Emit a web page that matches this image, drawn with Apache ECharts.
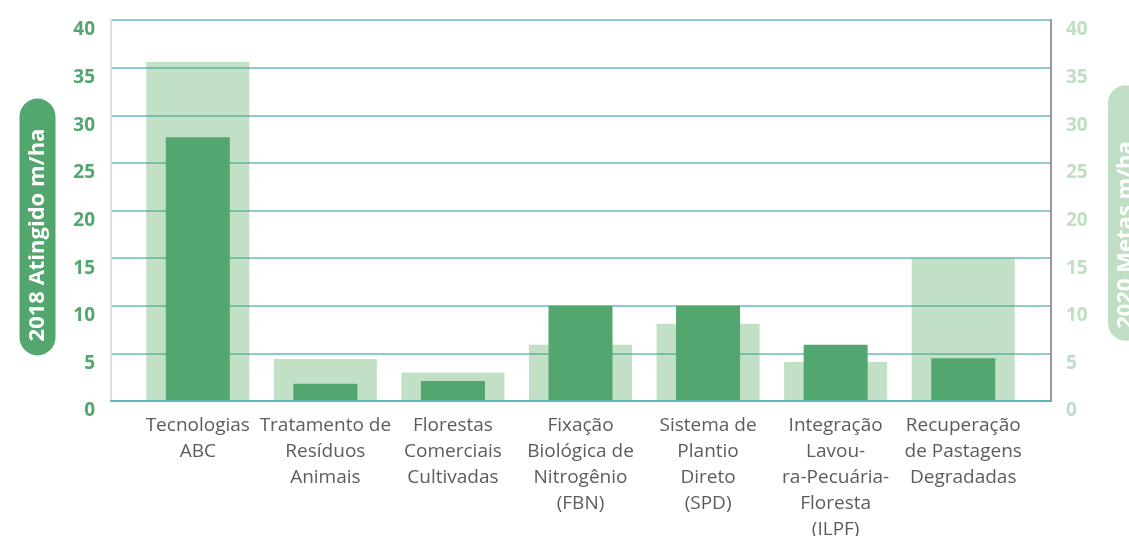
<!DOCTYPE html>
<html>
<head>
<meta charset="utf-8">
<script src="https://cdn.jsdelivr.net/npm/echarts@6/dist/echarts.min.js"></script>
<style>
  html, body { margin: 0; padding: 0; background: #fff; }
  #chart { width: 1129px; height: 536px; }
</style>
</head>
<body>
<div id="chart"></div>
<script>
// categorias e valores
var categorias = [
  'Tecnologias\nABC',
  'Tratamento de\nResíduos\nAnimais',
  'Florestas\nComerciais\nCultivadas',
  'Fixação\nBiológica de\nNitrogênio\n(FBN)',
  'Sistema de\nPlantio\nDireto\n(SPD)',
  'Integração\nLavou-\nra-Pecuária-\nFloresta\n(ILPF)',
  'Recuperação\nde Pastagens\nDegradadas'
];
var metas2020 = [35.6, 4.4, 3.0, 5.9, 8.1, 4.1, 15];
var atingido2018 = [27.7, 1.8, 2.1, 10, 10, 5.9, 4.5];
var ticksY = { min: 0, max: 40, interval: 5 };

var verdeEscuro = '#52a66e';
var verdeClaro = '#c0dec3';
// verde claro translúcido: deixa as linhas de grade aparecerem por cima
var verdeClaroBarra = 'rgba(76,165,88,0.35)';

var myChart = echarts.init(document.getElementById('chart'));

// grid 0 = moldura com eixos e linhas; grid 1 = barras (um pouco mais estreito)
var option = {
  animation: false,
  grid: [
    { left: 111, right: 78, top: 20, bottom: 135, outerBoundsMode: 'none', containLabel: false },
    { left: 134, right: 102, top: 20, bottom: 135, outerBoundsMode: 'none', containLabel: false }
  ],
  graphic: [{
    type: 'text',
    x: 37.5, y: 227,
    rotation: Math.PI / 2,
    style: {
      text: '2018 Atingido m/ha',
      fill: '#fff',
      font: 'bold 22px "Open Sans"',
      align: 'center',
      verticalAlign: 'middle',
      backgroundColor: verdeEscuro,
      borderRadius: 18,
      padding: [7, 30, 7, 14]
    }
  }, {
    type: 'text',
    x: 1126, y: 213,
    rotation: Math.PI / 2,
    style: {
      text: '2020 Metas m/ha',
      fill: '#fff',
      font: 'bold 22px "Open Sans"',
      align: 'center',
      verticalAlign: 'middle',
      backgroundColor: verdeClaro,
      borderRadius: 18,
      padding: [7, 56, 7, 12]
    }
  }],
  xAxis: [{
    type: 'category',
    gridIndex: 0,
    data: categorias,
    axisTick: { show: false },
    axisLabel: { show: false },
    axisLine: { lineStyle: { color: '#5bb5bb', width: 2 } },
    z: 3
  }, {
    type: 'category',
    gridIndex: 1,
    data: categorias,
    axisTick: { show: false },
    axisLine: { show: false },
    axisLabel: {
      interval: 0,
      margin: 12,
      color: '#5c5c5c',
      fontFamily: 'Open Sans',
      fontSize: 19,
      lineHeight: 26
    }
  }, {
    type: 'category',
    gridIndex: 1,
    data: categorias,
    show: false
  }],
  yAxis: [{
    type: 'value',
    gridIndex: 0,
    min: ticksY.min, max: ticksY.max, interval: ticksY.interval,
    axisLine: { show: true, lineStyle: { color: '#dddddd', width: 2 } },
    axisTick: { show: false },
    axisLabel: {
      margin: 16,
      verticalAlign: 'top',
      lineHeight: 20,
      color: verdeEscuro,
      fontFamily: 'Open Sans',
      fontWeight: 'bold',
      fontSize: 19
    },
    splitLine: { lineStyle: { color: '#6bb7bf', width: 1.5 } }
  }, {
    type: 'value',
    gridIndex: 0,
    min: ticksY.min, max: ticksY.max, interval: ticksY.interval,
    axisLine: { show: true, lineStyle: { color: '#999999', width: 2 } },
    axisTick: { show: false },
    axisLabel: {
      margin: 15,
      verticalAlign: 'top',
      lineHeight: 20,
      color: verdeClaro,
      fontFamily: 'Open Sans',
      fontWeight: 'bold',
      fontSize: 19
    },
    splitLine: { show: false }
  }, {
    type: 'value',
    gridIndex: 1,
    min: ticksY.min, max: ticksY.max,
    show: false
  }],
  series: [{
    name: '2020 Metas',
    type: 'bar',
    xAxisIndex: 1,
    yAxisIndex: 2,
    barWidth: 103,
    itemStyle: { color: verdeClaroBarra },
    data: metas2020
  }, {
    name: '2018 Atingido',
    type: 'bar',
    xAxisIndex: 2,
    yAxisIndex: 2,
    barWidth: 64,
    itemStyle: { color: verdeEscuro },
    data: atingido2018
  }]
};
myChart.setOption(option);
</script>
</body>
</html>
